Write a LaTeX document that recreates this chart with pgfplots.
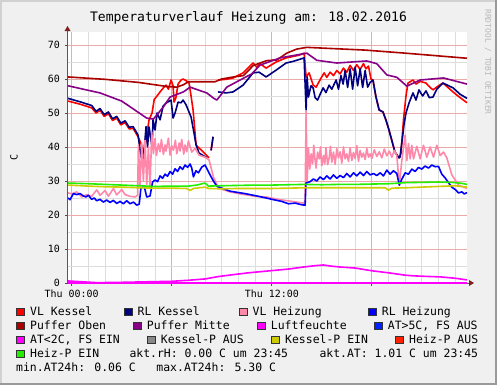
\documentclass[border=0pt]{standalone}
\usepackage{pgfplots}
\pgfplotsset{compat=1.18}
\usepackage{fontspec}
\setmainfont{DejaVu Sans Mono}
\newfontfamily\mono{DejaVu Sans Mono}
\newcommand\axfont{\mono\fontsize{10}{12}\selectfont}
\newcommand\lgfont{\mono\fontsize{11.5}{13}\selectfont}
\newcommand\ttlfont{\mono\fontsize{13.1}{15}\selectfont}
\newcommand\wmfont{\mono\fontsize{8}{9}\selectfont}
\definecolor{cvlk}{HTML}{FF0000}
\definecolor{crlk}{HTML}{000080}
\definecolor{cvlh}{HTML}{FF88AA}
\definecolor{crlh}{HTML}{0000FF}
\definecolor{cpo}{HTML}{AA0000}
\definecolor{cpm}{HTML}{880088}
\definecolor{clf}{HTML}{FF00FF}
\definecolor{cat5}{HTML}{0022FF}
\definecolor{cat2}{HTML}{FF00FF}
\definecolor{ckpa}{HTML}{888888}
\definecolor{ckpe}{HTML}{CCCC00}
\definecolor{chpa}{HTML}{FF2200}
\definecolor{chpe}{HTML}{22EE00}
\definecolor{canvas}{HTML}{F0F0F0}
\definecolor{mgrid}{HTML}{DDDDDD}
\definecolor{Mgrid}{HTML}{EBAAAA}
\definecolor{arrowc}{HTML}{802020}
\begin{document}
\begin{tikzpicture}
\fill[canvas] (0bp,0bp) rectangle (497bp,-385bp);
\fill[black!18] (0bp,0bp) rectangle (497bp,-1.5bp);
\fill[black!18] (0bp,0bp) rectangle (1.5bp,-385bp);
\fill[black!40] (494.5bp,0bp) rectangle (497bp,-385bp);
\fill[black!40] (0bp,-382.5bp) rectangle (497bp,-385bp);
\fill[white] (68bp,-32bp) rectangle (467bp,-283bp);
\node[anchor=base, inner sep=0pt, font=\ttlfont] at (248.5bp,-21bp) {Temperaturverlauf Heizung am: 18.02.2016};
\node[rotate=-90, inner sep=0pt, font=\wmfont, color=black!28] at (488bp,-62bp) {RRDTOOL / TOBI OETIKER};
\node[rotate=90, inner sep=0pt, font=\axfont] at (14bp,-157bp) {C};
\draw[line width=1bp, color=black!65] (68bp,-283bp) -- (470bp,-283bp);
\begin{axis}[
  at={(68bp,-283bp)}, anchor=south west,
  scale only axis, width=399bp, height=251bp,
  xmin=-0.222, xmax=23.71, ymin=0, ymax=73.82,
  clip=false,
  axis line style={draw=none},
  xtick={0,6,12,18}, xticklabels={Thu 00:00,,Thu 12:00,},
  minor xtick={1,2,3,4,5,7,8,9,10,11,13,14,15,16,17,19,20,21,22,23},
  ytick={0,10,20,30,40,50,60,70}, yticklabels={0,10,20,30,40,50,60,70},
  minor ytick={5,15,25,35,45,55,65},
  grid=both,
  major grid style={color=Mgrid, line width=0.8bp},
  minor grid style={color=mgrid, line width=0.8bp},
  tick style={draw=black!70, line width=0.8bp},
  major tick length=3bp, minor tick length=0bp,
  tick align=outside, xtick pos=left, ytick pos=left,
  xticklabel style={font=\axfont, anchor=north, inner sep=0pt, yshift=-4bp},
  yticklabel style={font=\axfont, anchor=east, inner sep=0pt, xshift=-5bp},
  unbounded coords=jump,
  every axis plot/.append style={line width=1.6bp, line join=round, no markers},
]
% VL Kessel
\addplot[cvlk] coordinates {(-0.22,53.5)(0.5,52.6)(1.2,51.5)(1.46,50.0)(1.7,50.8)(1.95,49.0)(2.2,49.8)(2.45,47.8)(2.7,48.5)(2.95,46.5)(3.2,47.2)(3.45,45.3)(3.68,45.5)(3.98,43.0)(4.16,41.0)(4.3,38.0)(4.46,42)(4.64,48)(4.82,50)(4.95,54)(5.12,55)(5.3,56.2)(5.5,57.4)(5.66,58.2)(5.8,57.0)(5.96,59.7)(6.08,58.0)(6.14,53.2)(6.25,54.5)(6.38,58.5)(6.56,59.7)(6.68,60.0)(6.86,59.5)(7.04,58.8)(7.16,55)(7.28,50.9)(7.46,40.6)(7.64,39.7)(7.9,38.5)(8.24,36.8)(8.3,nan)(8.36,39)(8.48,43)(8.6,nan)(8.78,59.7)(9.26,59.9)(9.68,60.3)(10.28,61.8)(10.88,64.7)(11.1,63.5)(11.3,64.5)(11.66,63.2)(12.26,65.0)(12.86,66.2)(13.64,67.0)(13.94,67.6)(14.06,60.6)(14.24,61.8)(14.48,58.2)(14.66,57.6)(14.96,60.3)(15.14,61.8)(15.3,60.5)(15.5,62.0)(15.7,61.0)(15.9,62.5)(16.1,61.5)(16.3,63.2)(16.5,62.0)(16.7,64.0)(16.9,62.5)(17.1,64.2)(17.3,62.8)(17.5,64.5)(17.65,63.0)(17.8,63.8)(17.95,60.0)(18.07,59.7)(18.25,54.7)(18.44,50.9)(18.67,50.3)(18.85,47.9)(19.03,45.0)(19.39,38.5)(19.63,36.8)(19.75,38)(19.9,48)(20.05,55)(20.17,58.8)(20.47,59.7)(20.65,58.5)(20.9,59.3)(21.25,58.8)(21.5,57.5)(21.67,56.8)(22.0,58)(22.27,58.8)(22.87,56.2)(23.3,54.5)(23.71,53.0)};
% RL Kessel
\addplot[crlk] coordinates {(-0.22,54.3)(0.5,53.3)(1.2,52.2)(1.46,50.5)(1.7,51.3)(1.95,49.5)(2.2,50.3)(2.45,48.3)(2.7,49.0)(2.95,47.0)(3.2,47.7)(3.45,45.8)(3.68,46.0)(3.98,43.5)(4.16,37)(4.3,36.5)(4.46,46)(4.55,40)(4.64,45.9)(4.82,40)(4.88,48)(5.0,45)(5.12,50)(5.3,48)(5.48,52)(5.66,52.9)(5.96,53.8)(6.08,48.5)(6.2,50)(6.38,53.2)(6.56,53.0)(6.68,53.8)(6.86,52.4)(7.16,48.8)(7.34,44.0)(7.46,40.6)(7.64,38.2)(8.12,36.8)(8.25,nan)(8.36,39)(8.48,43)(8.6,nan)(8.78,56.2)(9.26,55.9)(9.68,56.2)(10.28,58.2)(10.88,61.8)(11.24,62.0)(11.66,60.6)(12.26,62.6)(12.86,64.7)(13.3,65.2)(13.94,66.2)(14.06,50.9)(14.12,60.6)(14.2,54.7)(14.35,58.0)(14.48,57.4)(14.6,54.5)(14.75,53.8)(14.9,55.5)(15.08,57.4)(15.25,56.0)(15.44,58.2)(15.6,57.0)(15.86,59.7)(16.0,57.0)(16.15,61.0)(16.28,58.5)(16.4,62.5)(16.55,57.5)(16.7,63.0)(16.85,57.0)(17.0,63.5)(17.15,58.0)(17.3,63.0)(17.45,57.5)(17.6,62.5)(17.75,57.6)(17.9,59.0)(18.07,59.7)(18.25,54.7)(18.44,50.9)(18.67,50.3)(18.85,47.9)(19.03,45.0)(19.39,38.5)(19.63,36.8)(19.69,37)(19.87,44)(19.93,46.5)(20.05,50)(20.23,52.9)(20.47,55.9)(20.65,53.8)(20.83,56.8)(21.05,55.0)(21.25,56.5)(21.45,54.5)(21.67,54.7)(21.9,57)(22.27,58.8)(22.87,57.4)(23.3,55.5)(23.71,54.3)};
% VL Heizung
\addplot[cvlh] coordinates {(-0.22,26.5)(0.0,26.2)(0.3,26.8)(0.6,25.3)(0.9,26.0)(1.2,25.5)(1.5,27.4)(1.7,25.8)(2.0,27.2)(2.2,25.5)(2.5,27.8)(2.7,25.9)(3.0,27.5)(3.2,26.0)(3.5,25.5)(3.8,25.3)(3.95,25.8)(4.0,40.6)(4.1,28.5)(4.2,41.0)(4.3,30)(4.4,42)(4.5,29)(4.6,40)(4.7,28)(4.8,44.4)(4.9,38)(5.0,42.5)(5.08,37.5)(5.2,41)(5.3,38.6)(5.38,42.2)(5.5,37.8)(5.6,40.6)(5.66,38.8)(5.8,42.6)(5.9,37.6)(6.0,40.4)(6.1,39.0)(6.22,42.0)(6.3,38)(6.45,41.2)(6.5,38.8)(6.6,42.2)(6.72,37.9)(6.8,40.6)(6.9,38.6)(7.0,41.8)(7.2,38.5)(7.4,39.6)(7.64,37.6)(8.0,37)(8.24,36.2)(8.5,31.2)(8.8,27.9)(9.5,26.8)(10,26.3)(11.0,25.5)(11.66,25.3)(12.5,24.5)(13.5,23.8)(13.9,23.5)(14.0,24)(14.06,50.5)(14.12,30)(14.2,39.7)(14.28,33.5)(14.36,38)(14.45,35)(14.52,40.5)(14.6,36)(14.66,33.8)(14.75,38.5)(14.85,36.5)(14.92,40)(15.0,34.5)(15.1,37.5)(15.18,35)(15.25,39.8)(15.35,34.8)(15.45,37)(15.52,40.2)(15.6,35.5)(15.7,38.5)(15.8,34.9)(15.9,39.5)(16.0,36.8)(16.1,38.6)(16.2,35.2)(16.3,40.0)(16.4,36.5)(16.5,38.0)(16.6,35.8)(16.7,39.8)(16.8,36.0)(16.9,38.4)(17.0,36.6)(17.1,40.4)(17.2,35.8)(17.3,39.0)(17.4,37.0)(17.5,38.2)(17.6,36.3)(17.7,39.6)(17.8,37.0)(17.9,38.0)(18.0,36.6)(18.15,39.2)(18.3,37.2)(18.45,38.6)(18.6,36.8)(18.75,39.4)(18.9,37.4)(19.05,38.8)(19.2,37.0)(19.35,39.0)(19.5,37.5)(19.65,28.8)(19.8,36)(20.0,43.5)(20.1,36)(20.2,41)(20.3,36.5)(20.4,40.5)(20.5,36.5)(20.7,40.2)(20.9,36.5)(21.1,40.5)(21.3,37)(21.5,40)(21.7,37)(21.9,40.5)(22.1,37.5)(22.3,38.5)(22.5,36.8)(22.8,31.8)(23.2,28.8)(23.71,27.8)};
% RL Heizung
\addplot[crlh] coordinates {(-0.22,25.0)(-0.1,24.5)(0.1,26.3)(0.3,26.0)(0.5,26.3)(0.7,25.6)(0.85,25.3)(1.0,25.8)(1.2,24.6)(1.35,25.0)(1.5,24.2)(1.7,24.6)(1.9,23.8)(2.1,24.4)(2.3,23.7)(2.5,24.3)(2.7,23.4)(2.9,24.0)(3.1,23.3)(3.3,24.2)(3.5,23.3)(3.7,23.8)(3.9,22.9)(4.05,23.2)(4.15,27.9)(4.35,28.4)(4.5,25.3)(4.7,25.6)(4.85,29.7)(5.0,30.3)(5.15,29.8)(5.3,31.5)(5.45,30.8)(5.6,32.0)(5.75,31.4)(5.9,32.8)(6.05,32.0)(6.2,33.6)(6.35,32.8)(6.5,34.2)(6.65,33.4)(6.8,34.7)(6.95,34.0)(7.1,35.0)(7.2,33.8)(7.3,31.2)(7.45,33.0)(7.6,32.4)(7.8,34.1)(8.0,34.7)(8.15,33.2)(8.3,31.8)(8.5,30.0)(8.7,28.5)(9.0,27.9)(9.5,27.0)(10.0,26.6)(10.5,26.2)(11.0,25.7)(11.66,25.0)(12.2,24.4)(12.6,24.0)(13.0,23.3)(13.4,23.5)(13.8,23.0)(14.0,22.9)(14.05,29.4)(14.3,29.8)(14.5,30.6)(14.7,30.0)(14.9,31.2)(15.1,30.4)(15.3,31.5)(15.5,30.6)(15.7,31.8)(15.9,30.8)(16.1,31.6)(16.3,31.0)(16.5,32.2)(16.7,31.2)(16.9,32.4)(17.1,31.5)(17.3,32.6)(17.5,31.6)(17.7,32.8)(17.9,31.8)(18.1,32.2)(18.3,31.6)(18.5,32.4)(18.7,31.5)(18.9,33.2)(19.1,32.0)(19.3,33.0)(19.5,32.2)(19.65,28.8)(19.8,30.5)(20.0,32.4)(20.2,32.0)(20.4,33.5)(20.6,32.8)(20.8,34.0)(21.0,33.5)(21.2,34.4)(21.4,33.8)(21.6,34.7)(21.8,34.2)(22.0,34.3)(22.2,32.0)(22.4,30.9)(22.6,29.5)(22.8,28.2)(23.0,27.5)(23.2,26.5)(23.4,26.8)(23.55,26.2)(23.71,26.6)};
% Puffer Oben
\addplot[cpo] coordinates {(-0.22,60.6)(2,59.9)(4,59.0)(5.7,57.8)(6.3,57.6)(6.7,58.3)(7.0,59.2)(8.6,59.2)(9.0,60.0)(9.7,60.6)(10.3,61.0)(10.9,64.0)(11.7,65.4)(12.3,65.6)(12.9,67.6)(13.5,68.8)(14.1,69.3)(17.6,68.5)(20,67.6)(23.71,66.1)};
% Puffer Mitte
\addplot[cpm] coordinates {(-0.22,58.0)(1.7,55.9)(3,53.5)(4.5,48.5)(4.9,48.2)(5.5,51.8)(5.9,54.7)(6.7,56.2)(7.1,57.6)(8.1,55.9)(8.5,54.4)(8.7,53.8)(8.9,55.0)(9.3,57.6)(10.1,59.7)(10.8,61.5)(11.3,64.1)(12.5,66.2)(14.1,67.6)(14.7,65.5)(15.9,64.7)(17.7,65.3)(18.3,64.5)(18.9,61.2)(19.5,60.5)(20.1,57.9)(20.9,59.7)(22.3,60.3)(23.71,58.5)};
% Luftfeuchte
\addplot[clf] coordinates {(-0.222,0)(23.71,0)};
% AT
\addplot[cat2] coordinates {(-0.22,0.6)(0.5,0.4)(1.5,0.1)(3,0.2)(5,0.4)(6,0.5)(7,0.8)(8,1.2)(8.8,1.9)(9.6,2.4)(10.6,3.0)(11.9,3.6)(13,4.1)(13.9,4.7)(14.6,5.1)(15.1,5.3)(15.5,5.0)(16.1,4.7)(17,4.4)(18,3.6)(19,3.0)(20,2.3)(20.5,2.1)(21.5,1.9)(22.1,1.8)(23,1.4)(23.71,0.9)};
% Kessel-P EIN
\addplot[ckpe] coordinates {(-0.22,28.8)(1,28.5)(2,28.3)(3,28.2)(4,28.0)(5,27.9)(6,27.9)(6.9,27.8)(7.1,27.2)(7.3,27.8)(8,28.2)(8.2,27.8)(9,27.7)(10,27.8)(11,27.8)(12,27.8)(13,27.9)(14,28.0)(15,28.0)(16,28.0)(17,28.0)(18,28.0)(18.8,28.0)(19.0,27.3)(19.2,27.9)(20,28.0)(21,28.2)(22,28.4)(23,28.6)(23.71,28.2)};
% Heiz-P EIN
\addplot[chpe] coordinates {(-0.22,29.4)(1,29.2)(2,29.0)(3,28.8)(4,28.6)(5,28.4)(6,28.5)(7,28.5)(7.5,28.8)(8.0,29.4)(8.2,28.5)(9,28.6)(10,28.7)(11,28.8)(12,28.8)(13,28.9)(14,29.0)(15,28.9)(16,29.0)(17,29.0)(18,29.1)(19,29.2)(20,29.5)(21,29.6)(22,29.7)(22.8,29.6)(23.4,29.3)(23.71,29.0)};
\end{axis}
\draw[line width=1bp, color=black!65] (67.5bp,-283bp) -- (67.5bp,-30bp);
\fill[arrowc] (64.5bp,-31bp) -- (67.5bp,-26bp) -- (70.5bp,-31bp) -- cycle;
\fill[arrowc] (469bp,-280bp) -- (474bp,-283bp) -- (469bp,-286bp) -- cycle;
% legend
\begin{scope}[every node/.style={anchor=base west, inner sep=0pt, font=\lgfont}]
\newcommand\lbox[3]{\filldraw[fill=#1, draw=black!80, line width=0.6bp] (#2bp,-#3bp) rectangle ++(7.5bp,7.5bp);}
\lbox{cvlk}{16.5}{315.3}\node at (30bp,-315.3bp) {VL Kessel};
\lbox{crlk}{124.3}{315.3}\node at (137.5bp,-315.3bp) {RL Kessel};
\lbox{cvlh}{239.5}{315.3}\node at (252.5bp,-315.3bp) {VL Heizung};
\lbox{crlh}{368.5}{315.3}\node at (381.7bp,-315.3bp) {RL Heizung};
\lbox{cpo}{16.5}{329.3}\node at (30bp,-329.3bp) {Puffer Oben};
\lbox{cpm}{133.5}{329.3}\node at (146.7bp,-329.3bp) {Puffer Mitte};
\lbox{clf}{257.7}{329.3}\node at (270.7bp,-329.3bp) {Luftfeuchte};
\lbox{cat5}{374.3}{329.3}\node at (387.7bp,-329.3bp) {AT>5C, FS AUS};
\lbox{cat2}{16.5}{343.3}\node at (30bp,-343.3bp) {AT<2C, FS EIN};
\lbox{ckpa}{147.3}{343.3}\node at (160.7bp,-343.3bp) {Kessel-P AUS};
\lbox{ckpe}{271.7}{343.3}\node at (285bp,-343.3bp) {Kessel-P EIN};
\lbox{chpa}{395.7}{343.3}\node at (409bp,-343.3bp) {Heiz-P AUS};
\lbox{chpe}{16.5}{357.3}\node at (30bp,-357.3bp) {Heiz-P EIN};
\node at (129.3bp,-357.3bp) {akt.rH: 0.00 C um 23:45};
\node at (319.3bp,-357.3bp) {akt.AT: 1.01 C um 23:45};
\node at (16bp,-371bp) {min.AT24h: 0.06 C\ \ \ max.AT24h: 5.30 C};
\end{scope}
\pgfresetboundingbox
\path[use as bounding box] (0bp,0bp) rectangle (497bp,-385bp);
\end{tikzpicture}
\end{document}
